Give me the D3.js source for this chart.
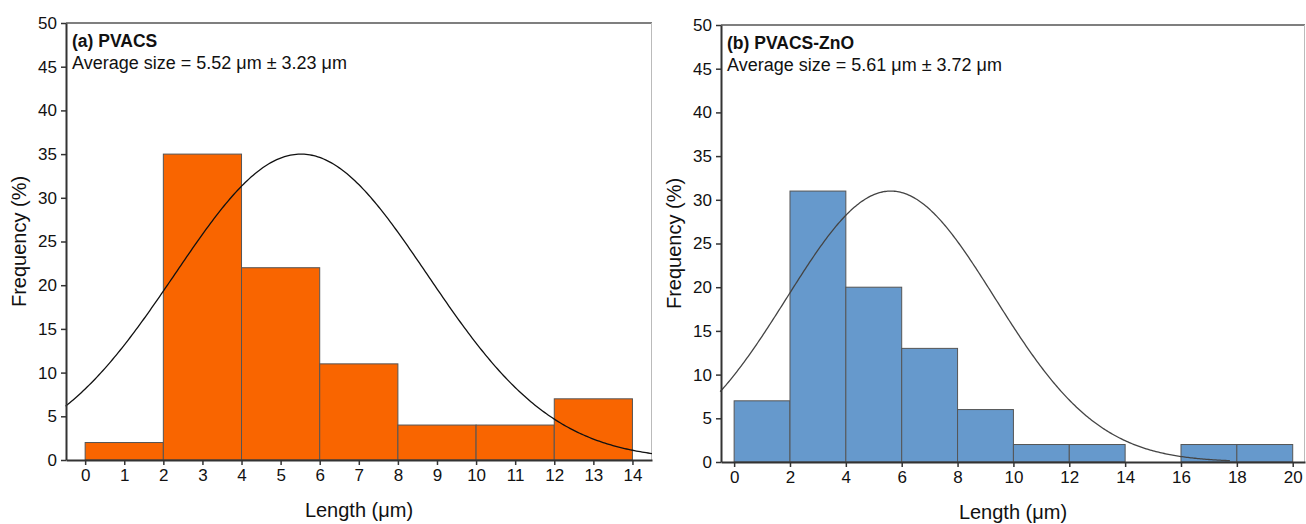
<!DOCTYPE html>
<html>
<head>
<meta charset="utf-8">
<style>
  body { margin: 0; background: #fff; }
  text { font-family: "Liberation Sans", Arial, sans-serif; fill: #111; }
  .tick text { font-size: 17px; }
</style>
</head>
<script src="https://d3js.org/d3.v7.min.js"></script>
<body>
<svg id="chart" width="1306" height="524"></svg>
<script>

// bins (lower edges), widths of 2 um
var binsA = [0, 2, 4, 6, 8, 10, 12];
var freqA = [2, 35, 22, 11, 4, 4, 7];
var binsB = [0, 2, 4, 6, 8, 10, 12, 14, 16, 18];
var freqB = [7, 31, 20, 13, 6, 2, 2, 0, 2, 2];

// fitted normal curve: mean, sd, peak height, x-range of the drawn curve
var fitA = [5.52, 3.23, 35];
var fitB = [5.61, 3.72, 31];
var curveRangeA = [-0.5, 14.5];
var curveRangeB = [-0.5, 17.76];

var xTicksA = [0, 1, 2, 3, 4, 5, 6, 7, 8, 9, 10, 11, 12, 13, 14];
var xTicksB = [0, 2, 4, 6, 8, 10, 12, 14, 16, 18, 20];
var yTicks = [0, 5, 10, 15, 20, 25, 30, 35, 40, 45, 50];

var titleA = "(a) PVACS";
var titleB = "(b) PVACS-ZnO";
var noteA = "Average size = 5.52 \u03bcm \u00b1 3.23 \u03bcm";
var noteB = "Average size = 5.61 \u03bcm \u00b1 3.72 \u03bcm";

var svg = d3.select("#chart");

function panel(opt) {
  var x = d3.scaleLinear().domain(opt.xDomain).range([opt.left, opt.right]);
  var y = d3.scaleLinear().domain([0, 50]).range([opt.bottom, opt.top]);
  var g = svg.append("g");

  // frame: top and right border
  g.append("line")
    .attr("x1", opt.left).attr("x2", opt.right)
    .attr("y1", opt.top).attr("y2", opt.top)
    .attr("stroke", "#555").attr("stroke-width", 1.5);
  g.append("line")
    .attr("x1", opt.right - 0.5).attr("x2", opt.right - 0.5)
    .attr("y1", opt.top).attr("y2", opt.bottom)
    .attr("stroke", "#bbb").attr("stroke-width", 1);

  // bars
  g.selectAll("rect.bar")
    .data(opt.bins.map(function(b, i) { return { x0: b, x1: b + 2, v: opt.freq[i] }; })
      .filter(function(d) { return d.v > 0; }))
    .enter().append("rect")
      .attr("class", "bar")
      .attr("x", function(d) { return x(d.x0); })
      .attr("width", function(d) { return x(d.x1) - x(d.x0); })
      .attr("y", function(d) { return y(d.v); })
      .attr("height", function(d) { return y(0) - y(d.v); })
      .attr("fill", opt.color)
      .attr("stroke", "#555")
      .attr("stroke-width", 1);

  // fitted normal curve
  var pts = d3.range(opt.curveRange[0], opt.curveRange[1] + 0.001, 0.05).map(function(t) {
    var z = (t - opt.fit[0]) / opt.fit[1];
    return [t, opt.fit[2] * Math.exp(-0.5 * z * z)];
  });
  g.append("path")
    .datum(pts)
    .attr("fill", "none")
    .attr("stroke", opt.curveColor)
    .attr("stroke-width", 1.3)
    .attr("d", d3.line().x(function(d) { return x(d[0]); }).y(function(d) { return y(d[1]); }));

  // axes
  var ax = g.append("g")
    .attr("transform", "translate(0," + opt.bottom + ")")
    .call(d3.axisBottom(x).tickValues(opt.xTicks).tickSize(5).tickSizeOuter(0).tickPadding(4));
  ax.select(".domain").attr("stroke", "#333").attr("stroke-width", 2);
  ax.selectAll(".tick line").attr("stroke", "#333").attr("stroke-width", 1.5);

  var ay = g.append("g")
    .attr("transform", "translate(" + opt.left + ",0)")
    .call(d3.axisLeft(y).tickValues(yTicks).tickSize(5).tickSizeOuter(0).tickPadding(4));
  ay.select(".domain").attr("stroke", "#333").attr("stroke-width", 2);
  ay.selectAll(".tick line").attr("stroke", "#333").attr("stroke-width", 1.5);
  g.selectAll(".tick text").attr("fill", "#111").style("font-family", "Liberation Sans, Arial, sans-serif");

  // axis titles
  g.append("text")
    .attr("x", (opt.left + opt.right) / 2)
    .attr("y", opt.bottom + 57)
    .attr("text-anchor", "middle")
    .style("font-size", "20px")
    .text("Length (\u03bcm)");
  g.append("text")
    .attr("transform", "translate(" + (opt.left - 40) + "," + ((opt.top + opt.bottom) / 2) + ") rotate(-90)")
    .attr("text-anchor", "middle")
    .style("font-size", "20px")
    .text("Frequency (%)");

  // labels inside plot
  g.append("text")
    .attr("x", opt.left + 6).attr("y", opt.top + 24)
    .style("font-size", "17.5px").style("font-weight", "bold")
    .text(opt.title);
  g.append("text")
    .attr("x", opt.left + 6).attr("y", opt.top + 46)
    .style("font-size", "18px")
    .text(opt.note);
}

panel({
  left: 66, right: 652, top: 23, bottom: 460,
  xDomain: [-0.49, 14.5],
  bins: binsA, freq: freqA, fit: fitA, curveRange: curveRangeA,
  xTicks: xTicksA, color: "#f96500", curveColor: "#111",
  title: titleA, note: noteA
});

panel({
  left: 721, right: 1305, top: 25, bottom: 462,
  xDomain: [-0.47, 20.44],
  bins: binsB, freq: freqB, fit: fitB, curveRange: curveRangeB,
  xTicks: xTicksB, color: "#6699cc", curveColor: "#444",
  title: titleB, note: noteB
});

</script>
</body>
</html>
